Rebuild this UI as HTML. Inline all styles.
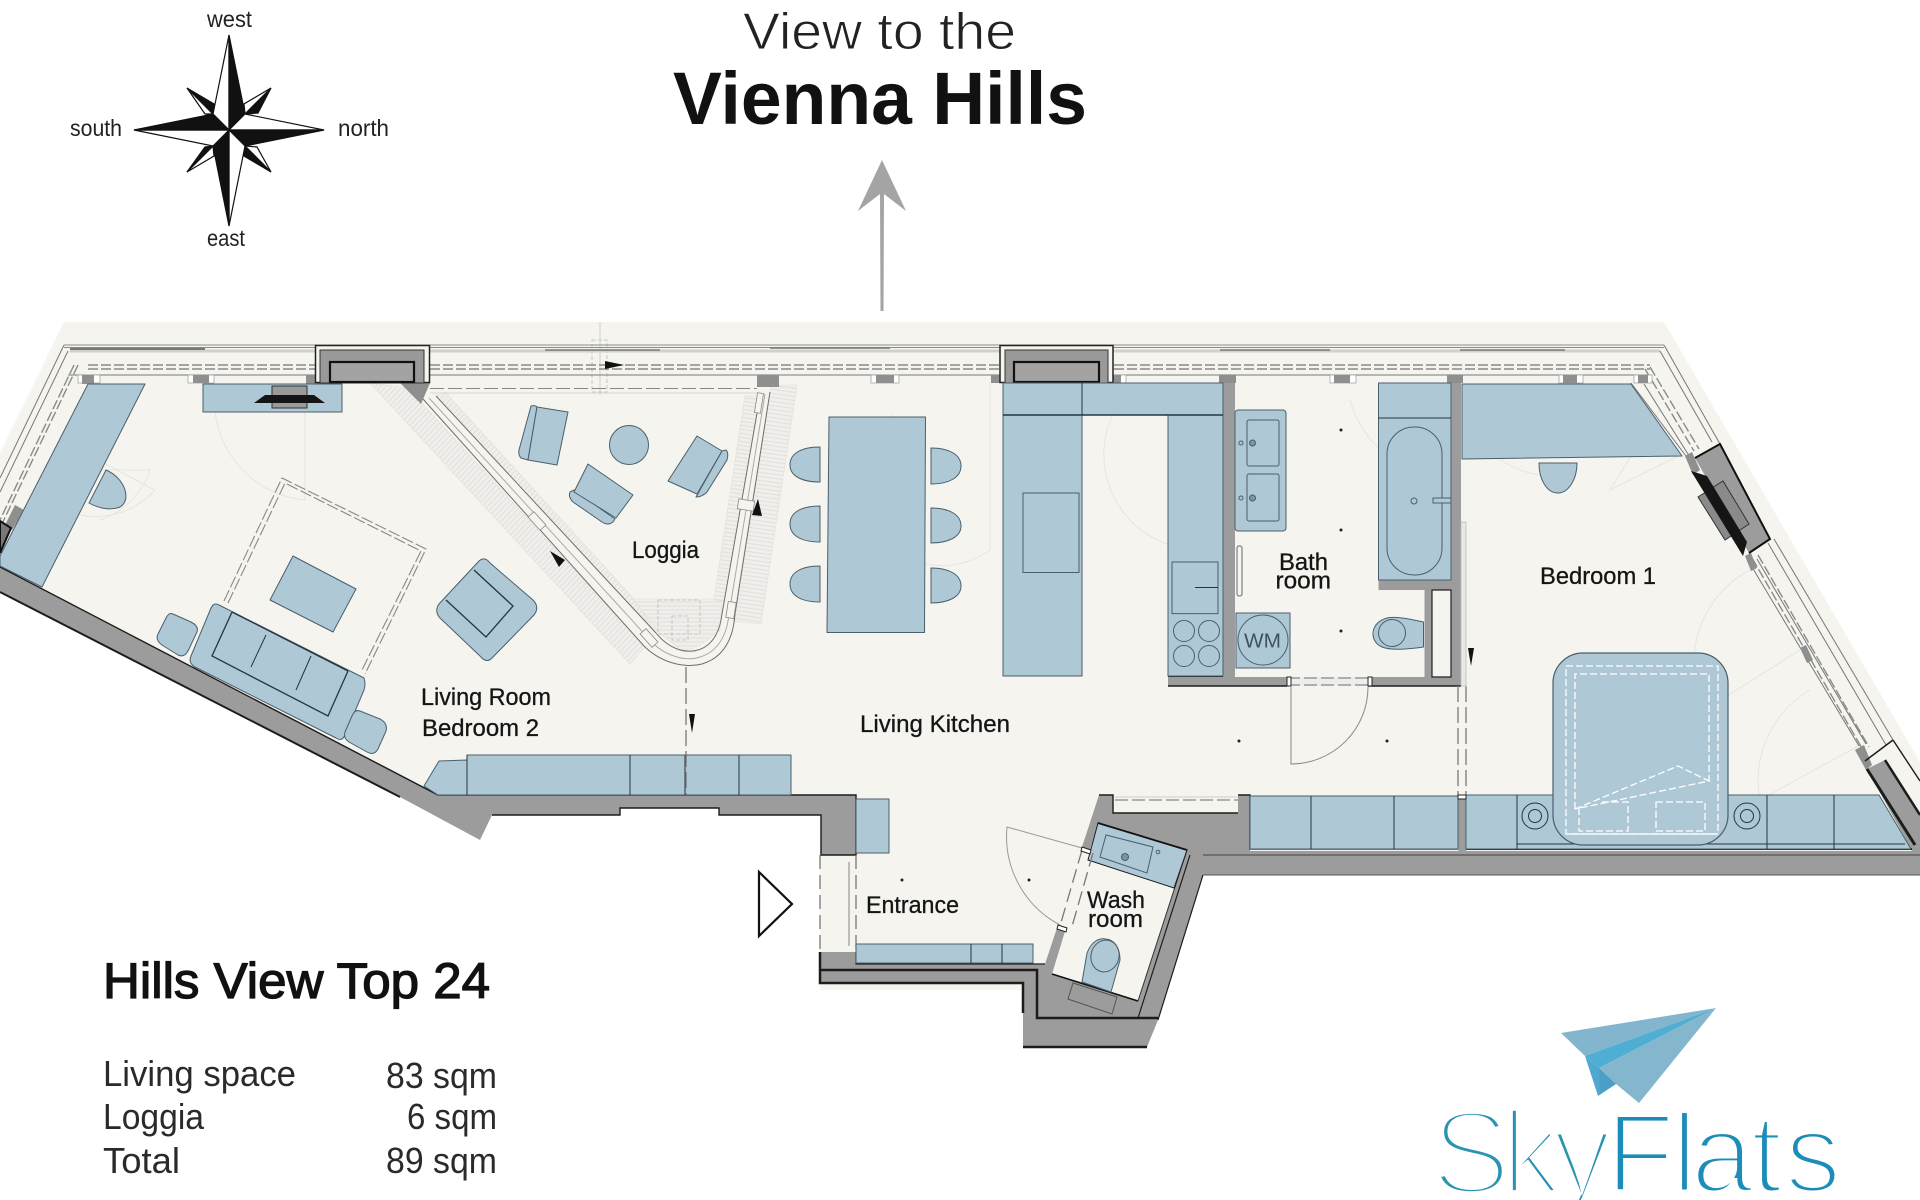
<!DOCTYPE html>
<html><head><meta charset="utf-8"><title>Hills View Top 24</title>
<style>html,body{margin:0;padding:0;background:#fff}svg{display:block}
text{font-family:"Liberation Sans",sans-serif}</style></head><body>
<svg width="1920" height="1200" viewBox="0 0 1920 1200" xmlns="http://www.w3.org/2000/svg">
<defs>
<pattern id="h1" width="4" height="4" patternUnits="userSpaceOnUse" patternTransform="rotate(43)"><rect width="4" height="4" fill="#f0efeb"/><line x1="2" y1="0" x2="2" y2="4" stroke="#dcdcd8" stroke-width=".8"/></pattern>
<pattern id="h2" width="4" height="4" patternUnits="userSpaceOnUse" patternTransform="rotate(98)"><rect width="4" height="4" fill="#f0efeb"/><line x1="2" y1="0" x2="2" y2="4" stroke="#dcdcd8" stroke-width=".8"/></pattern>
<pattern id="h3" width="4" height="4" patternUnits="userSpaceOnUse"><rect width="4" height="4" fill="#f0efeb"/><line x1="0" y1="2" x2="4" y2="2" stroke="#dcdcd8" stroke-width=".8"/></pattern>
</defs>

<!-- floor -->
<polygon fill="#f5f4ef" points="64,322 1664,322 1920,762 1920,860 1250,860 1100,860 1100,990 820,990 820,808 492,808 400,797 0,592 0,453"/>

<!-- faint door arcs -->
<g fill="none" stroke="#e6e5e0" stroke-width="1">
<path d="M215,412 A100,100 0 0 0 305,500 V412"/><path d="M70,470 L150,470 A80,80 0 0 1 100,520"/>
<path d="M893,415 A75,75 0 0 0 990,550 V383"/><path d="M1121,400 A95,95 0 0 0 1170,545"/>
<path d="M1350,400 A110,110 0 0 0 1450,480"/><path d="M1463,400 A90,90 0 0 0 1540,475"/>
<path d="M1580,395 A85,85 0 0 0 1640,445"/><path d="M1660,410 L1610,490 L1680,455"/>
<path d="M1750,570 A105,105 0 0 0 1705,710 L1800,650"/><path d="M1810,690 A105,105 0 0 0 1760,800 L1860,745"/>
<path d="M60,440 L155,490 A80,80 0 0 1 80,515"/>
</g>

<!-- hatching -->
<g stroke="#e0e0dc" stroke-width=".6">
<polygon fill="url(#h1)" points="370,383 408,388 645,647 630,664"/>
<polygon fill="url(#h1)" points="436,396 445,392 634,599 656,633"/>
<polygon fill="url(#h3)" points="633,599 722,599 720,630 700,645 684,652 658,632"/>
<polygon fill="url(#h2)" points="745,396 760,396 724,602 714,599"/>
<polygon fill="url(#h2)" points="771,385 797,385 761,624 733,621"/>
</g>
<g fill="none" stroke="#bdbdb8" stroke-width=".8" stroke-dasharray="4 2">
<rect x="658" y="600" width="42" height="34"/><rect x="672" y="616" width="16" height="24"/>
<rect x="592" y="340" width="15" height="52"/>
</g>
<line x1="600" y1="322" x2="600" y2="395" stroke="#c8c8c3" stroke-width=".8"/>

<!-- top window frame -->
<g fill="none" stroke="#8b8b88" stroke-width="1">
<line x1="64" y1="345" x2="1664" y2="345"/>
<line x1="64" y1="347.5" x2="1664" y2="347.5"/>
<line x1="70" y1="351" x2="1660" y2="351" stroke="#d0d0cc" stroke-width="3"/>
<line x1="68" y1="375" x2="1650" y2="375" stroke="#777"/>
<line x1="70" y1="349" x2="205" y2="349" stroke="#777" stroke-width="2"/>
<line x1="545" y1="350" x2="660" y2="350" stroke="#777" stroke-width="1.600"/>
<line x1="770" y1="348" x2="890" y2="348" stroke="#777" stroke-width="1.600"/>
<line x1="1220" y1="350" x2="1330" y2="350" stroke="#777" stroke-width="1.600"/>
<line x1="1460" y1="350" x2="1565" y2="350" stroke="#777" stroke-width="1.600"/>
</g>
<g fill="none" stroke="#8a8a88" stroke-width="1.400" stroke-dasharray="10 3">
<path d="M88,365 H315 M430,365 H1000 M1114,365 H1650"/>
<path d="M88,369 H315 M430,369 H1000 M1114,369 H1650"/>
<path d="M78,365 L0,528"/><path d="M74,365 L0,520"/>
<path d="M1650,367 L1699,449"/><path d="M1645,369 L1694,451"/>
<path d="M1758,555 L1869,747"/><path d="M1752,558 L1863,750"/>
</g>
<g fill="none" stroke="#777" stroke-width="1">
<path d="M64,345 L0,478"/><path d="M68,351 L0,492"/>
<path d="M1664,345 L1720,444"/><path d="M1660,351 L1712,442"/>
<path d="M1774,539 L1893,740"/><path d="M1768,543 L1886,745"/>
<path d="M1631,383 L1689,460"/><path d="M1644,384 L1693,462"/>
<path d="M1749,562 L1859,746"/><path d="M1757,559 L1866,744"/>
</g>
<line x1="430" y1="388.500" x2="757" y2="388.500" stroke="#888" stroke-width="1" stroke-dasharray="14 4"/>
<line x1="430" y1="393" x2="757" y2="393" stroke="#d6d6d2" stroke-width="1"/>

<!-- piers -->
<g fill="#fff" stroke="#999" stroke-width=".7">
<rect x="78" y="375" width="22" height="8"/><rect x="188" y="375" width="26" height="8"/>
<rect x="871" y="375" width="28" height="8"/><rect x="1096" y="375" width="30" height="8"/>
<rect x="1330" y="375" width="26" height="8"/><rect x="1559" y="375" width="24" height="8"/><rect x="1634" y="375" width="18" height="8"/>
</g>
<g fill="#8f8f8f">
<rect x="82" y="375" width="12" height="9"/><rect x="193" y="375" width="16" height="8"/><rect x="306" y="375" width="21" height="9"/>
<rect x="757" y="375" width="22" height="12"/><rect x="876" y="375" width="18" height="8"/><rect x="991" y="375" width="15" height="8"/>
<rect x="1100" y="375" width="21" height="8"/><rect x="1219" y="375" width="17" height="8"/><rect x="1334" y="375" width="16" height="8"/>
<rect x="1447" y="375" width="16" height="8"/><rect x="1563" y="375" width="14" height="8"/><rect x="1638" y="375" width="10" height="8"/>
<polygon points="400,383 430,383 421,404"/>
<polygon points="1685,456 1692,452 1700,470 1693,475"/>
<polygon points="1745,556 1751,553 1757,568 1751,571"/>
<polygon points="1800,648 1806,645 1813,660 1807,663"/>
<polygon points="1855,750 1864,745 1872,765 1866,770"/>
<polygon points="15,505 24,510 12,530 5,525"/>
</g>

<!-- chimney shafts -->
<g>
<rect x="315.500" y="345.500" width="114" height="37" fill="#f5f4ef" stroke="#222" stroke-width="1.500"/>
<rect x="320" y="350" width="104" height="33" fill="#999" stroke="#333" stroke-width="1"/>
<rect x="330" y="362" width="84" height="20" fill="#a3a3a3" stroke="#111" stroke-width="2.200"/>
<rect x="1000" y="345.500" width="113" height="37" fill="#f5f4ef" stroke="#222" stroke-width="1.500"/>
<rect x="1005" y="350" width="103" height="33" fill="#999" stroke="#333" stroke-width="1"/>
<rect x="1014" y="362" width="85" height="20" fill="#a3a3a3" stroke="#111" stroke-width="2.200"/>
</g>

<!-- loggia glazing -->
<g fill="none" stroke="#6f6f6c" stroke-width="1">
<path d="M423,399 L644,646 C662,664 686,668 702,664 C722,658 733,642 735,614 L770,392"/>
<path d="M436,396 L656,633 C668,648 684,654 698,650 C712,646 720,632 722,614 L760,396"/>
<path d="M429,398 L650,640 C664,656 686,662 700,657 C717,652 727,636 729,614 L765,394" stroke="#aaa"/>
</g>
<g fill="#f5f4ef" stroke="#888" stroke-width=".8">
<rect x="-4" y="-9" width="8" height="18" transform="translate(537,521) rotate(-42)"/>
<rect x="-4" y="-9" width="8" height="18" transform="translate(649,638) rotate(-42)"/>
<rect x="-8" y="-5" width="16" height="10" transform="translate(746,505) rotate(9)"/>
<rect x="-4" y="-8" width="8" height="16" transform="translate(731,610) rotate(9)"/>
<rect x="-3" y="-10" width="6" height="20" transform="translate(759,403) rotate(9)"/>
</g>

<!-- walls -->
<g fill="#9c9c9c" stroke="none">
<polygon points="0,567 438,795 856,795 856,855 821,855 821,815 719,815 719,808 620,808 620,815 492,815 480,840 400,797 0,592"/>
<polygon points="1099,795 1113,795 1113,813 1238,813 1238,795 1250,795 1250,851 1920,851 1920,875 1203,875 1158,1020 1147,1047 1023,1047 1023,983 820,983 820,952 856,952 856,964 1045,964 1057,928 1070,932 1095,851 1082,847"/>
<rect x="1223" y="383" width="12" height="303"/>
<rect x="1168" y="677" width="119" height="9"/>
<rect x="1368" y="677" width="93" height="9"/>
<rect x="1451" y="383" width="10" height="303"/>
<rect x="1378.500" y="580" width="72.500" height="10"/>
<rect x="1424.500" y="590" width="7.500" height="87"/>
<rect x="1458.500" y="795" width="7.500" height="56"/>
<polygon points="1867,769 1885,760 1920,815 1920,875 1911,849"/>
</g>
<g fill="none" stroke="#1c1c1c" stroke-width="1.400">
<polyline points="0,592 400,797" stroke-width="2"/>
<polyline points="0,567 438,795 856,795 856,855 821,855 821,815 719,815 719,808 620,808 620,815 492,815"/>
<polyline points="1099,795 1113,795 1113,813 1238,813"/>
<polyline points="1238,795 1250,795 1250,849 1458,849"/>
<polyline points="1466,849 1912,849" stroke-width="2"/>
<line x1="1203" y1="855" x2="1920" y2="855" stroke="#555" stroke-width="1.200"/>
<polyline points="820,970 1037,970 1037,1018 1158,1018" stroke-width="2.500"/>
<polyline points="820,952 820,983 1023,983 1023,1013" stroke-width="2.500"/>
<line x1="1023" y1="1047" x2="1147" y2="1047" stroke-width="2.500"/>
<polyline points="856,952 856,964 1045,964" stroke-width="1.200"/>
<polyline points="1190,855 1138,1018" stroke-width="1.200"/>
<line x1="1203" y1="875" x2="1158" y2="1020" stroke-width="1.200"/>
<line x1="1203" y1="875" x2="1920" y2="875" stroke="#555" stroke-width="1"/>
<line x1="1168" y1="676" x2="1223" y2="676" stroke-width="2"/>
<line x1="1168" y1="686" x2="1287" y2="686" stroke-width="1.500"/>
<line x1="1368" y1="686" x2="1461" y2="686" stroke-width="1.500"/>
<line x1="1867" y1="769" x2="1915" y2="845" stroke-width="3"/>
<polyline points="1893,740 1920,781"/>
<polyline points="1865,761 1893,740" stroke-width="1.500"/>
<polyline points="1885,760 1920,815" stroke-width="2.500"/>
</g>
<polygon fill="#9c9c9c" points="1695,458 1720,444 1770,539 1749,553"/>
<polyline fill="none" stroke="#111" stroke-width="2" points="1695,458 1720,444 1770,539 1749,553"/>
<polygon fill="#8a8a8a" stroke="#333" stroke-width="1" points="1698,497 1723,481 1749,524 1725,540"/>
<polygon fill="#151515" points="1691,471 1707,476 1747,542 1743,556"/>
<polygon fill="#f5f4ef" stroke="#222" stroke-width="1.200" points="1432,590 1451,590 1451,677 1432,677"/>
<rect x="1287" y="677" width="81" height="9" fill="#ecedec"/>
<path d="M1287,678 H1368 M1287,685 H1368" stroke="#999" stroke-width="1.500" stroke-dasharray="13 4"/>
<rect x="1287" y="677" width="4" height="9" fill="#fff" stroke="#222"/><rect x="1368" y="677" width="4" height="9" fill="#fff" stroke="#222"/>
<rect x="1117" y="795" width="118" height="14" fill="#f5f4ef"/>
<path d="M1115,800 H1238" stroke="#999" stroke-width="1.500" stroke-dasharray="13 4"/>
<path d="M1115,797 H1238" stroke="#ccc" stroke-width="1"/>

<!-- wash room -->
<polygon fill="#f5f4ef" points="1098,823 1187,850 1138,1001 1052,974"/>
<line x1="1052" y1="974" x2="1138" y2="1001" stroke="#111" stroke-width="1.600"/>
<line x1="1187" y1="850" x2="1138" y2="1001" stroke="#333" stroke-width="1"/>
<polygon fill="#aec8d6" stroke="#1c1c1c" stroke-width="1" points="1098,823 1187,850 1174,888 1088,860"/>
<line x1="1098" y1="823" x2="1187" y2="850" stroke="#111" stroke-width="1.800"/>
<polygon fill="#aec8d6" stroke="#4a5f6c" stroke-width="1" points="1106,835 1153,847 1147,873 1100,857"/>
<circle cx="1125" cy="857" r="3.500" fill="#7d95a2" stroke="#4a5f6c"/><circle cx="1158" cy="852" r="1.800" fill="none" stroke="#4a5f6c"/>
<polygon fill="#9c9c9c" stroke="#555" stroke-width="1" points="1073,983 1117,997 1112,1014 1068,999"/>
<path fill="#aec8d6" stroke="#4a5f6c" d="M1082,982 L1087,953 C1092,940 1100,938 1106,939 C1116,940 1120,950 1120,960 L1111,992 Z"/>
<ellipse cx="1105" cy="956" rx="14" ry="16" transform="rotate(15 1105 956)" fill="none" stroke="#4a5f6c"/>
<path d="M1082,848 L1007,827 A100,100 0 0 0 1060,925" fill="none" stroke="#999" stroke-width="1"/>
<path d="M1082,850 L1060,926 M1093,853 L1071,930" stroke="#777" stroke-width="1.300" stroke-dasharray="14 6"/>
<g fill="#fff" stroke="#222" stroke-width="1"><polygon points="1082,847 1091,850 1090,854 1081,851"/><polygon points="1058,925 1067,928 1066,932 1057,929"/></g>

<!-- entrance -->
<path d="M820,855 V952 M856,855 V952" stroke="#777" stroke-width="1.300" stroke-dasharray="14 6" fill="none"/>
<line x1="849" y1="862" x2="849" y2="946" stroke="#aaa" stroke-width="1.500"/>
<polygon points="759,872 792,904 759,936" fill="#fff" stroke="#111" stroke-width="2.200"/>

<!-- blue furniture -->
<g fill="#aec8d6" stroke="#4a5f6c" stroke-width="1" stroke-linejoin="round">
<!-- left wardrobe / TV -->
<polygon points="88,384 145,384 42,587 0,566 0,556"/>
<rect x="203" y="384" width="139" height="28"/>
<path d="M106,470 C125,478 132,500 120,507 C110,511 98,508 89,503 Z"/>
<!-- sofa set -->
<path d="M219,605 L364,678 Q366,684 364,690 L345,735 Q342,742 336,738 L195,667 Q188,663 191,656 L211,608 Q214,602 219,605Z"/>
<path d="M173,614 L191,622 Q199,626 197,632 L188,651 Q184,658 178,655 L162,645 Q155,640 158,634 L166,618 Q169,612 173,614Z"/>
<path d="M360,711 L380,719 Q388,723 386,731 L378,749 Q374,756 367,752 L349,742 Q343,738 345,732 L352,716 Q355,709 360,711Z"/>
<polygon points="293,556 356,589 333,632 270,600"/>
<path d="M479,561 Q485,556 490,563 L533,600 Q540,607 534,615 L493,657 Q487,664 481,657 L440,618 Q434,611 439,604Z"/>
<!-- low cabinet -->
<polygon points="439,761 467,760 467,795 438,795 424,786"/>
<rect x="467" y="755" width="324" height="40"/>
<!-- loggia furniture -->
<path d="M531,406 Q535,405 537,407 L528,460 L521,458 Q518,455 519,450 Z"/><polygon points="537,407 568,412 557,465 528,460"/>
<circle cx="629" cy="445" r="19.500"/>
<path d="M574,490 L615,519 L613,522 Q608,526 602,522 L573,502 Q568,497 570,492 Z"/><polygon points="588,464 633,495 616,518 574,492"/>
<path d="M722,451 L726,450 Q729,453 727,460 L707,492 Q702,497 696,497 Z"/><polygon points="697,436 722,451 697,494 668,481"/>
<!-- dining -->
<polygon points="829,417 925.500,417 924.500,632.500 827,632.500"/>
<path d="M820,447 C802,447 790,453 790,465 C790,476 802,482 820,482Z"/><path d="M820,506 C802,506 790,512 790,524 C790,536 802,542 820,542Z"/><path d="M820,566 C802,566 790,572 790,584 C790,596 802,602 820,602Z"/>
<path d="M931,448 C948,448 961,454 961,466 C961,478 948,484 931,484Z"/><path d="M931,508 C948,508 961,514 961,526 C961,537 948,543 931,543Z"/><path d="M931,568 C948,568 961,574 961,586 C961,597 948,603 931,603Z"/>
<!-- kitchen -->
<rect x="1003" y="383" width="79" height="293"/>
<rect x="1082" y="383" width="141" height="32"/>
<rect x="1168" y="415" width="55" height="261"/>
<rect x="1023" y="493" width="56" height="79.500"/>
<rect x="1172" y="562" width="46" height="51.600"/>
<circle cx="1184" cy="631" r="10.500"/><circle cx="1209" cy="631" r="10.500"/><circle cx="1184" cy="656" r="10.500"/><circle cx="1209" cy="656" r="10.500"/>
<!-- bath -->
<rect x="1235" y="410" width="51" height="121" rx="3"/>
<rect x="1247" y="420" width="32" height="46" rx="2"/><rect x="1247" y="474" width="32" height="47" rx="2"/>
<circle cx="1252.500" cy="443" r="3" fill="#7d95a2"/><circle cx="1241" cy="443" r="2"/><circle cx="1252.500" cy="498" r="3" fill="#7d95a2"/><circle cx="1241" cy="498" r="2"/>
<rect x="1236" y="613" width="54" height="55"/><circle cx="1263" cy="640" r="25"/>
<rect x="1378.500" y="383" width="72.500" height="197"/>
<rect x="1387" y="427" width="55" height="148" rx="27"/>
<circle cx="1414" cy="501" r="3"/><rect x="1433" y="498" width="18" height="5"/>
<path d="M1423.500,622 C1405,618 1390,615 1382,620 C1370,626 1370,642 1382,647 C1392,651 1410,649 1423.500,647Z"/>
<circle cx="1392" cy="633" r="13.500"/>
<!-- bedroom -->
<polygon points="1462,384 1631,384 1682,456 1462,459"/>
<path d="M1539,463 H1577 C1577,480 1568,493 1558,493 C1547,493 1539,480 1539,463Z"/>
<polygon points="1466,795 1879,795 1911,849 1466,849"/>
<rect x="1250" y="796" width="208" height="53"/>
<rect x="856" y="799" width="33" height="54"/>
<rect x="856" y="944" width="177" height="19"/>
</g>
<g fill="none" stroke="#26363f" stroke-width="1">
<polyline points="232,612 212,656 328,716 348,671" stroke-width="1.300"/>
<line x1="232" y1="612" x2="348" y2="671" stroke-width="1.300"/>
<line x1="266" y1="635" x2="251" y2="667"/><line x1="311" y1="656" x2="296" y2="690"/>
<polyline points="474,570 513,606 486,637 446,600" stroke-width="1.300"/>
<line x1="630" y1="755" x2="630" y2="795"/><line x1="685" y1="755" x2="685" y2="795"/><line x1="739" y1="755" x2="739" y2="795"/>
<line x1="1003" y1="415" x2="1223" y2="415" stroke-width="1.500"/><line x1="1082" y1="383" x2="1082" y2="415"/>
<line x1="1195" y1="587.500" x2="1218" y2="587.500"/>
<line x1="1378.500" y1="418" x2="1451" y2="418"/>
<line x1="1311" y1="796" x2="1311" y2="849"/><line x1="1394" y1="796" x2="1394" y2="849"/>
<line x1="1517" y1="795" x2="1517" y2="849"/><line x1="1767" y1="795" x2="1767" y2="849"/><line x1="1834" y1="795" x2="1834" y2="849"/>
<line x1="1517" y1="844" x2="1905" y2="844"/>
<line x1="971" y1="944" x2="971" y2="963"/><line x1="1002" y1="944" x2="1002" y2="963"/>
<line x1="467" y1="755" x2="467" y2="795"/>
<circle cx="1535" cy="816" r="13"/><circle cx="1535" cy="816" r="6.500"/><circle cx="1747" cy="816" r="13"/><circle cx="1747" cy="816" r="6.500"/>
</g>
<rect x="1237" y="546" width="5" height="50" rx="2" fill="#f5f4ef" stroke="#667" stroke-width="1"/>
<!-- TV -->
<rect x="272" y="386" width="35" height="22" fill="#9a9a9a" stroke="#333"/>
<polygon points="254,403 265,395 314,395 325,403" fill="#151515"/>
<!-- left shaft -->
<polygon points="0,521 11,528 0,553" fill="#777" stroke="#111" stroke-width="2"/>
<!-- bed -->
<rect x="1553" y="653" width="175" height="192" rx="30" fill="#aec8d6" stroke="#4a5f6c" stroke-width="1.200"/>
<g fill="none" stroke="#fff" stroke-width="1.300" stroke-dasharray="7 3">
<rect x="1566" y="666" width="152" height="168"/>
<polyline points="1575,809 1575,674 1709,674 1709,781"/>
<polygon points="1575,809 1678,766 1709,781"/>
<polyline points="1579,808 1579,831 1628,831 1628,802 1600,802"/>
<rect x="1656" y="802" width="49" height="29"/>
</g>
<line x1="1566" y1="834" x2="1718" y2="834" stroke="#fff" stroke-width="1.200"/>

<!-- doors & dashes -->
<path d="M1291,686 V764 A77,77 0 0 0 1368,687" fill="none" stroke="#888" stroke-width="1"/>
<path d="M686,667 V795" stroke="#777" stroke-width="1.300" stroke-dasharray="16 5" fill="none"/>
<polygon points="689,714 695,714 692,733" fill="#111"/>
<path d="M1458,686 V795 M1466,686 V795" stroke="#888" stroke-width="1.500" stroke-dasharray="16 5" fill="none"/>
<rect x="1461" y="522" width="5" height="164" fill="#e9e8e4" stroke="#bbb" stroke-width=".8"/>
<polygon points="1468,648 1474,648 1471,666" fill="#111"/>
<rect x="1458" y="795" width="8" height="4" fill="#fff" stroke="#222" stroke-width="1"/>
<!-- carpet -->
<g fill="none" stroke="#888" stroke-width="1.100" stroke-dasharray="12 3">
<polyline points="224,601 282,478 426,549 365,674"/>
<polyline points="228,603 285,483 421,551 361,672"/>
</g>
<!-- arrows -->
<polygon points="605,361 624,365 605,369" fill="#111"/>
<polygon points="550,551 565,560 559,567" fill="#111"/>
<polygon points="758,499 762,516 752,515" fill="#111"/>
<!-- dots -->
<g fill="#222"><circle cx="1341" cy="430" r="1.500"/><circle cx="1341" cy="530" r="1.500"/><circle cx="1341" cy="631" r="1.500"/><circle cx="1239" cy="741" r="1.500"/><circle cx="1387" cy="741" r="1.500"/><circle cx="902" cy="880" r="1.500"/><circle cx="1029" cy="880" r="1.500"/></g>

<!-- compass -->
<g stroke="#111" stroke-width="1.200" stroke-linejoin="miter">
<polygon fill="#fff" points="271,88 244,104 245,114"/><polygon fill="#111" points="271,88 245,114 258,113"/>
<polygon fill="#fff" points="187,88 205,114 213,114"/><polygon fill="#111" points="187,88 213,114 214,104"/>
<polygon fill="#fff" points="187,172 213,146 214,156"/><polygon fill="#111" points="187,172 205,147 213,146"/>
<polygon fill="#fff" points="271,172 245,146 257,147"/><polygon fill="#111" points="271,172 245,146 244,156"/>
<polygon fill="#fff" points="229,35 213,114 229,130"/><polygon fill="#111" points="229,35 245,114 229,130"/>
<polygon fill="#fff" points="324,130 245,114 229,130"/><polygon fill="#111" points="324,130 245,146 229,130"/>
<polygon fill="#fff" points="229,226 245,146 229,130"/><polygon fill="#111" points="229,226 213,146 229,130"/>
<polygon fill="#fff" points="134,130 213,146 229,130"/><polygon fill="#111" points="134,130 213,114 229,130"/>
</g>
<g font-size="23" fill="#222">
<text x="207" y="27" textLength="45" lengthAdjust="spacingAndGlyphs">west</text>
<text x="70" y="136" textLength="52" lengthAdjust="spacingAndGlyphs">south</text>
<text x="338" y="136" textLength="51" lengthAdjust="spacingAndGlyphs">north</text>
<text x="207" y="246" textLength="38" lengthAdjust="spacingAndGlyphs">east</text>
</g>

<!-- heading -->
<text x="743" y="49" font-size="52" fill="#222" stroke="#fff" stroke-width=".9" textLength="273" lengthAdjust="spacingAndGlyphs">View to the</text>
<text x="673" y="124" font-size="74" font-weight="bold" fill="#111" textLength="414" lengthAdjust="spacingAndGlyphs">Vienna Hills</text>
<polygon fill="#a4a4a4" points="882,160 858,211 880,194 880.500,311 883.500,311 884,194 906,211"/>

<!-- room labels -->
<g font-size="24" fill="#151515" stroke="#151515" stroke-width=".3">
<text x="632" y="558" textLength="67" lengthAdjust="spacingAndGlyphs">Loggia</text>
<text x="421" y="705" textLength="130" lengthAdjust="spacingAndGlyphs">Living Room</text>
<text x="422" y="736" textLength="117" lengthAdjust="spacingAndGlyphs">Bedroom 2</text>
<text x="860" y="732" textLength="150" lengthAdjust="spacingAndGlyphs">Living Kitchen</text>
<text x="1279" y="570" textLength="49" lengthAdjust="spacingAndGlyphs">Bath</text>
<text x="1275.500" y="588.500" textLength="55.500" lengthAdjust="spacingAndGlyphs">room</text>
<text x="1540" y="584" textLength="116" lengthAdjust="spacingAndGlyphs">Bedroom 1</text>
<text x="866" y="913" textLength="93" lengthAdjust="spacingAndGlyphs">Entrance</text>
<text x="1087" y="908" textLength="58" lengthAdjust="spacingAndGlyphs">Wash</text>
<text x="1088" y="927" textLength="55" lengthAdjust="spacingAndGlyphs">room</text>
</g>
<text x="1244" y="647.500" font-size="20" fill="#3f525d" textLength="37" lengthAdjust="spacingAndGlyphs">WM</text>

<!-- info -->
<text x="103" y="998" font-size="50" fill="#111" stroke="#111" stroke-width="1.300" textLength="387" lengthAdjust="spacingAndGlyphs">Hills View Top 24</text>
<g font-size="36" fill="#2a2a2a">
<text x="103" y="1086" textLength="193" lengthAdjust="spacingAndGlyphs">Living space</text>
<text x="386" y="1088" textLength="111" lengthAdjust="spacingAndGlyphs">83 sqm</text>
<text x="103" y="1129" textLength="101" lengthAdjust="spacingAndGlyphs">Loggia</text>
<text x="407" y="1129" textLength="90" lengthAdjust="spacingAndGlyphs">6 sqm</text>
<text x="103" y="1173" textLength="77" lengthAdjust="spacingAndGlyphs">Total</text>
<text x="386" y="1173" textLength="111" lengthAdjust="spacingAndGlyphs">89 sqm</text>
</g>

<!-- logo -->
<polygon fill="#4ea8d0" points="1585,1056 1599,1068 1616,1084 1598,1096"/>
<polygon fill="#4a9fc7" points="1599,1068 1616,1084 1600,1094"/>
<polygon fill="#83b5cf" points="1561,1033 1716,1008 1585,1056"/>
<polygon fill="#50aed3" points="1585,1056 1716,1008 1599,1068"/>
<polygon fill="#84b6ce" points="1599,1068 1716,1008 1639,1103 1616,1084"/>
<text x="1431 1501 1552" y="1194" font-size="120" fill="#2a93b2" stroke="#fff" stroke-width="7.500">Sky</text>
<text x="1606 1672 1691 1751 1785" y="1192" font-size="112" fill="#1b8db8" stroke="#fff" stroke-width="5">Flats</text>
</svg>
</body></html>
